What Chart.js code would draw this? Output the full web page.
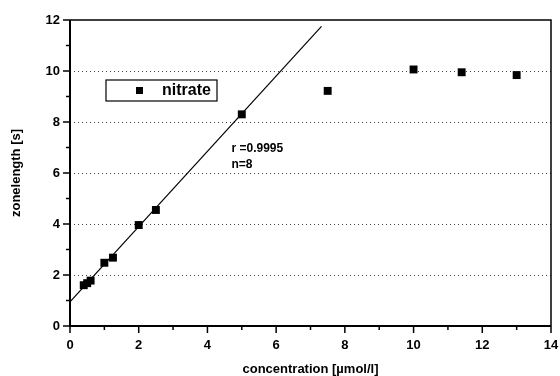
<!DOCTYPE html>
<html>
<head>
<meta charset="utf-8">
<script src="https://cdn.jsdelivr.net/npm/chart.js@4/dist/chart.umd.min.js"></script>
<style>
  html, body { margin: 0; padding: 0; background: #fff; }
  #wrap { width: 560px; height: 376px; }
</style>
</head>
<body>
<div id="wrap"><canvas id="chart" width="560" height="376"></canvas></div>
<script>
// measured points (concentration in umol/l, zone length in s)
const concentration = [0.4, 0.5, 0.6, 1.0, 1.25, 2.0, 2.5, 5.0, 7.5, 10.0, 11.4, 13.0];
const zonelength = [1.6, 1.68, 1.78, 2.48, 2.68, 3.96, 4.55, 8.3, 9.22, 10.06, 9.95, 9.84];

// linear fit drawn over the first 8 points
const fitX = [0, 7.32];
const fitY = [0.95, 11.75];

const seriesName = 'nitrate';
const fitText = ['r =0.9995', 'n=8'];

const xTicks = [0, 2, 4, 6, 8, 10, 12, 14];
const yTicks = [0, 2, 4, 6, 8, 10, 12];

const FONT = '"Liberation Sans", Arial, sans-serif';

// frame, dotted grid, tick marks, legend and fit text
const decorPlugin = {
  id: 'decor',
  beforeDatasetsDraw(chart) {
    const ctx = chart.ctx;
    const area = chart.chartArea;
    const xs = chart.scales.x;
    const ys = chart.scales.y;
    ctx.save();

    // dotted horizontal grid
    ctx.strokeStyle = '#444';
    ctx.lineWidth = 1;
    ctx.setLineDash([1, 3]);
    yTicks.forEach(v => {
      if (v === 0 || v === 12) return;
      const py = Math.round(ys.getPixelForValue(v)) + 0.5;
      ctx.beginPath();
      ctx.moveTo(area.left, py);
      ctx.lineTo(area.right, py);
      ctx.stroke();
    });
    ctx.setLineDash([]);

    // frame
    ctx.strokeStyle = '#000';
    ctx.lineWidth = 1.5;
    ctx.beginPath();
    ctx.moveTo(area.left, area.top);
    ctx.lineTo(area.right, area.top);
    ctx.lineTo(area.right, area.bottom);
    ctx.stroke();
    ctx.lineWidth = 2;
    ctx.beginPath();
    ctx.moveTo(area.left, area.top);
    ctx.lineTo(area.left, area.bottom);
    ctx.lineTo(area.right, area.bottom);
    ctx.stroke();

    // tick marks, major on even values
    ctx.lineWidth = 1.5;
    for (let v = 0; v <= 14; v++) {
      const px = xs.getPixelForValue(v);
      const len = v % 2 === 0 ? 7 : 4;
      ctx.beginPath();
      ctx.moveTo(px, area.bottom);
      ctx.lineTo(px, area.bottom + len);
      ctx.stroke();
    }
    for (let v = 0; v <= 12; v++) {
      const py = ys.getPixelForValue(v);
      const len = v % 2 === 0 ? 7 : 4;
      ctx.beginPath();
      ctx.moveTo(area.left, py);
      ctx.lineTo(area.left - len, py);
      ctx.stroke();
    }

    // legend box
    const lx = area.left + 36, ly = area.top + 60;
    ctx.lineWidth = 1.2;
    ctx.strokeRect(lx, ly, 111, 21);
    ctx.fillStyle = '#000';
    ctx.fillRect(lx + 30, ly + 7, 7, 7);
    ctx.font = 'bold 16px ' + FONT;
    ctx.textBaseline = 'middle';
    ctx.textAlign = 'left';
    ctx.fillText(seriesName, lx + 56, ly + 11);

    // fit text
    ctx.font = 'bold 12px ' + FONT;
    const tx = xs.getPixelForValue(4.7);
    ctx.fillText(fitText[0], tx, ys.getPixelForValue(6.95));
    ctx.fillText(fitText[1], tx, ys.getPixelForValue(6.32));

    ctx.restore();
  }
};

new Chart(document.getElementById('chart'), {
  type: 'scatter',
  data: {
    datasets: [
      {
        label: 'fit',
        type: 'line',
        data: fitX.map((x, i) => ({ x: x, y: fitY[i] })),
        borderColor: '#000',
        borderWidth: 1.2,
        pointRadius: 0,
        fill: false,
        tension: 0
      },
      {
        label: seriesName,
        data: concentration.map((x, i) => ({ x: x, y: zonelength[i] })),
        pointStyle: 'rect',
        pointRadius: 5.6,
        pointBackgroundColor: '#000',
        pointBorderColor: '#000',
        pointBorderWidth: 0
      }
    ]
  },
  options: {
    responsive: false,
    animation: false,
    layout: { padding: { top: 20, right: 9, left: 0, bottom: 0 } },
    plugins: {
      legend: { display: false },
      tooltip: { enabled: false }
    },
    scales: {
      x: {
        type: 'linear',
        min: 0,
        max: 14,
        afterFit: s => { s.height = 50; s.paddingLeft = 0; s.paddingRight = 0; },
        afterBuildTicks: s => { s.ticks = xTicks.map(v => ({ value: v })); },
        grid: { display: false, drawTicks: false },
        border: { display: false },
        ticks: {
          padding: 12,
          color: '#000',
          font: { family: FONT, size: 13, weight: 'bold' }
        },
        title: {
          display: true,
          text: 'concentration [µmol/l]',
          color: '#000',
          padding: { top: 0, bottom: 0 },
          font: { family: FONT, size: 13, weight: 'bold', lineHeight: 1 }
        }
      },
      y: {
        type: 'linear',
        min: 0,
        max: 12,
        afterFit: s => { s.width = 70; s.paddingTop = 0; s.paddingBottom = 0; },
        afterBuildTicks: s => { s.ticks = yTicks.map(v => ({ value: v })); },
        grid: { display: false, drawTicks: false },
        border: { display: false },
        ticks: {
          padding: 10,
          color: '#000',
          font: { family: FONT, size: 13, weight: 'bold' }
        },
        title: {
          display: true,
          text: 'zonelength [s]',
          color: '#000',
          padding: { top: 9, bottom: 0 },
          font: { family: FONT, size: 13, weight: 'bold' }
        }
      }
    }
  },
  plugins: [decorPlugin]
});
</script>
</body>
</html>
